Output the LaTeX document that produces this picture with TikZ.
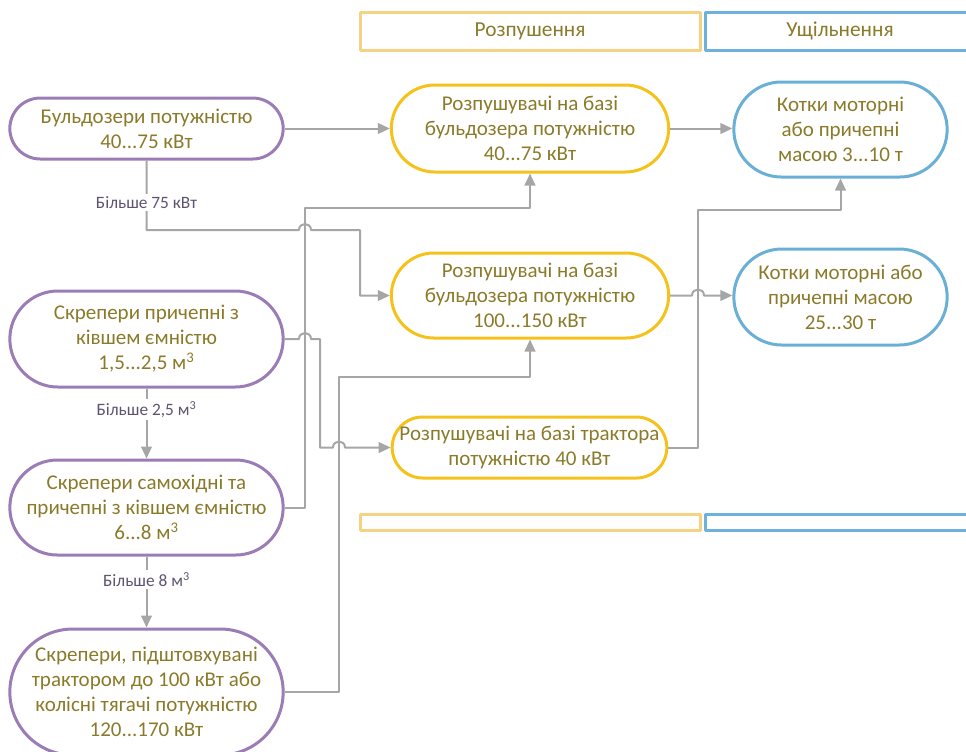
\documentclass[tikz,border=0pt]{standalone}
\usepackage{fontspec}
\setmainfont{Carlito}
\usetikzlibrary{arrows.meta}
\definecolor{purp}{HTML}{9B7CB4}
\definecolor{ylw}{HTML}{F5C21B}
\definecolor{blu}{HTML}{6AB0D6}
\definecolor{hylw}{HTML}{F6D383}
\definecolor{hblu}{HTML}{6DB2DA}
\definecolor{olv}{HTML}{8A7A2A}
\definecolor{lblc}{HTML}{5E5470}
\definecolor{lin}{HTML}{A6A6A6}
\begin{document}
\begin{tikzpicture}[x=0.75pt,y=-0.75pt, line join=round, >={Triangle[length=9pt,width=8pt]},
	pill/.style={draw, line width=2.25pt, text=olv, align=center, inner sep=0pt, font=\fontsize{15.75}{18.75}\selectfont},
	dozer/.style={pill, draw=purp, minimum width=205pt},
	ripper/.style={pill, draw=ylw, minimum width=208pt},
	roller/.style={pill, draw=blu, minimum width=160pt},
	tall/.style={minimum height=#1, rounded corners=#1/2},
	hdr/.style={draw, line width=2.25pt, text=olv, inner sep=0pt, minimum height=28.5pt, font=\fontsize{16}{19}\selectfont},
	lnk/.style={draw=lin, line width=1.5pt},
	lbl/.style={fill=white, text=lblc, inner sep=2pt, font=\fontsize{13}{15}\selectfont}]
				\useasboundingbox (0,0) rectangle (966,751);
				% headers and bottom bars
				\node[hdr, draw=hylw, minimum width=255pt] (hrip) at (530,31) {Розпушення};
				\node[hdr, draw=hblu, minimum width=202.5pt] (hcomp) at (840,31) {Ущільнення};
				\node[hdr, draw=hylw, minimum width=255pt, minimum height=12pt] (brip) at (530,522) {};
				\node[hdr, draw=hblu, minimum width=202.5pt, minimum height=12pt] (bcomp) at (840,522) {};
				% machines
				\node[dozer, tall=45.75pt] (b1) at (146.5,128.5) {Бульдозери потужністю\\40...75 кВт};
				\node[dozer, tall=72pt] (s1) at (146.5,339) {Скрепери причепні з\\ківшем ємністю\\1,5...2,5 м\textsuperscript{3}};
				\node[dozer, tall=71.25pt] (s2) at (146.5,507.5) {Скрепери самохідні та\\причепні з ківшем ємністю\\6...8 м\textsuperscript{3}};
				\node[dozer, tall=94.5pt] (s3) at (146.5,692) {Скрепери, підштовхувані\\трактором до 100 кВт або\\колісні тягачі потужністю\\120...170 кВт};
				\node[ripper, tall=65.25pt] (r1) at (530,128.5) {Розпушувачі на базі\\бульдозера потужністю\\40...75 кВт};
				\node[ripper, tall=63.75pt] (r2) at (530,295.5) {Розпушувачі на базі\\бульдозера потужністю\\100...150 кВт};
				\node[ripper, tall=45.75pt, minimum width=206pt] (r3) at (529.5,447.5) {Розпушувачі на базі трактора\\потужністю 40 кВт};
				\node[roller, tall=71.25pt] (k1) at (840.5,129.5) {Котки моторні\\або причепні\\масою 3...10 т};
				\node[roller, tall=72pt] (k2) at (840.5,297) {Котки моторні або\\причепні масою\\25...30 т};
				% links
				\draw[lnk,->] (b1.east) -- (r1.west);
				\draw[lnk,->] (b1.south) -- node[lbl,pos=0.6]{Більше 75 кВт} (146.5,230) -- (299,230) .. controls (299,222) and (311,222) .. (311,230) -- (360,230) |- (r2.west);
				\draw[lnk,->] (s2.east) -- (305,507.5) -- (305,208) -| (r1.south);
				\draw[lnk,->] (s1.east) -- (299,339) .. controls (299,331) and (311,331) .. (311,339) -- (320,339) -- (320,447.5) -- (333,447.5) .. controls (333,439.5) and (345,439.5) .. (345,447.5) -- (r3.west);
				\draw[lnk,->] (s3.east) -- (339,692) -- (339,377) -| (r2.south);
				\draw[lnk,->] (r1.east) -- (r1.east -| k1.west);
				\draw[lnk,->] (r2.east) -- (692,295.5) .. controls (692,287.5) and (704,287.5) .. (704,295.5) -- (r2.east -| k2.west);
				\draw[lnk,->] (r3.east) -- (698,447.5) -- (698,210) -| (k1.south);
				\draw[lnk,->] (s1.south) -- node[lbl,pos=0.3]{Більше 2,5 м\textsuperscript{3}} (s2.north);
				\draw[lnk,->] (s2.south) -- node[lbl,pos=0.32]{Більше 8 м\textsuperscript{3}} (s3.north);
		\end{tikzpicture}
\end{document}
